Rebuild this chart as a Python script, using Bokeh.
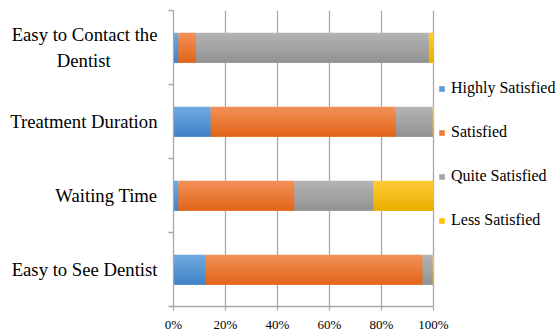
from bokeh.plotting import figure
from bokeh.models import (ColumnDataSource, Range1d, FixedTicker, PrintfTickFormatter,
                          Legend, LegendItem)
from bokeh.transform import dodge
from bokeh.embed import file_html
from bokeh.resources import INLINE

categories = ["Easy to See Dentist", "Waiting Time", "Treatment Duration",
              "Easy to Contact the\nDentist"]
positions = [1, 2, 3, 4]
series = ["Highly Satisfied", "Satisfied", "Quite Satisfied", "Less Satisfied"]
highly = [12.4, 1.9, 14.3, 1.9]
satisfied = [83.4, 44.6, 71.2, 6.7]
quite = [3.9, 30.4, 14.2, 89.6]
less = [0.3, 23.1, 0.3, 1.8]
x_ticks = [0, 20, 40, 60, 80, 100]

# style: gradient top / bottom colours of each series
top_colors = ["#6EA9DE", "#F28F57", "#B3B3B3", "#FFC936"]
bottom_colors = ["#4384C8", "#E2671A", "#939393", "#E9B000"]
legend_colors = ["#5B9BD5", "#ED7D31", "#A5A5A5", "#FFC000"]

src = ColumnDataSource(dict(y=positions, hs=highly, s=satisfied, qs=quite, ls=less))

FONT = "Liberation Serif"
FRAME_L, FRAME_R_100, W = 173, 433, 556
x_end = 100 * (W - FRAME_L) / (FRAME_R_100 - FRAME_L)

p = figure(width=W, height=334, output_backend="svg", toolbar_location=None,
           x_range=Range1d(0, x_end), y_range=Range1d(0.5, 4.5),
           min_border_left=FRAME_L, min_border_right=0, min_border_top=10,
           min_border_bottom=26)
p.outline_line_color = None
p.background_fill_color = "white"
p.border_fill_color = "white"


def mix(c1, c2, t):
    a = [int(c1[i:i + 2], 16) for i in (1, 3, 5)]
    b = [int(c2[i:i + 2], 16) for i in (1, 3, 5)]
    return "#%02x%02x%02x" % tuple(round(a[k] + (b[k] - a[k]) * t) for k in range(3))


# vertical gradient: layered bars, each one starting a little lower and
# reaching the bar's bottom, so no background shows between layers
BAR_H = 0.4
N = 12
step = BAR_H / N
for i in range(N):
    t = i / (N - 1)
    cols = [mix(tc, bc, t) for tc, bc in zip(top_colors, bottom_colors)]
    h = BAR_H - i * step
    p.hbar_stack(["hs", "s", "qs", "ls"], y=dodge("y", -i * step / 2, range=p.y_range),
                 height=h, color=cols, line_color=None, source=src)

# renderers used only for the legend swatches (zero-height, not visible)
legend_rs = p.hbar_stack(["hs", "s", "qs", "ls"], y="y", height=0, color=legend_colors,
                         line_color=None, source=src)

# axes
p.xaxis.ticker = FixedTicker(ticks=x_ticks, minor_ticks=[])
p.xaxis.bounds = (0, 100)
p.xaxis.formatter = PrintfTickFormatter(format="%d%%")
p.xaxis.axis_line_color = "#A8A8A8"
p.xaxis.axis_line_width = 1.3
p.xaxis.major_tick_line_color = "#A8A8A8"
p.xaxis.major_tick_line_width = 1.3
p.xaxis.major_tick_out = 4
p.xaxis.major_tick_in = 0
p.xaxis.minor_tick_line_color = None
p.xaxis.major_label_text_font = FONT
p.xaxis.major_label_text_font_size = "13px"
p.xaxis.major_label_text_color = "#000000"
p.xaxis.major_label_standoff = 6

# multi-line labels: pad the shorter line so the lines read centred
def centred(label):
    lines = label.split("\n")
    if len(lines) == 1:
        return label
    return lines[0] + "\n" + lines[1] + "\u00a0" * 10

p.yaxis.ticker = FixedTicker(ticks=positions, minor_ticks=[0.5, 1.5, 2.5, 3.5, 4.5])
p.yaxis.major_label_overrides = {pos: centred(lab) for pos, lab in zip(positions, categories)}
p.yaxis.axis_line_color = "#A8A8A8"
p.yaxis.axis_line_width = 1.3
p.yaxis.major_tick_line_color = None
p.yaxis.major_tick_out = 0
p.yaxis.major_tick_in = 0
p.yaxis.minor_tick_line_color = "#A8A8A8"
p.yaxis.minor_tick_line_width = 1.3
p.yaxis.minor_tick_out = 5
p.yaxis.minor_tick_in = 0
p.yaxis.major_label_text_font = FONT
p.yaxis.major_label_text_font_size = "18.7px"
p.yaxis.major_label_text_color = "#000000"
p.yaxis.major_label_standoff = 11

p.xgrid.grid_line_color = "#A8A8A8"
p.xgrid.grid_line_width = 1.3
p.ygrid.grid_line_color = None

legend = Legend(items=[LegendItem(label=s, renderers=[r]) for s, r in zip(series, legend_rs)],
                location=(265, 76), orientation="vertical",
                glyph_width=7, glyph_height=7, label_standoff=6,
                label_height=20, spacing=24, padding=0, margin=0,
                border_line_color=None, background_fill_alpha=0,
                label_text_font="Liberation Serif, Times New Roman, serif",
                label_text_font_size="16px", label_text_color="#000000")
p.add_layout(legend, "center")

open("out.html", "w").write(file_html(p, INLINE))
